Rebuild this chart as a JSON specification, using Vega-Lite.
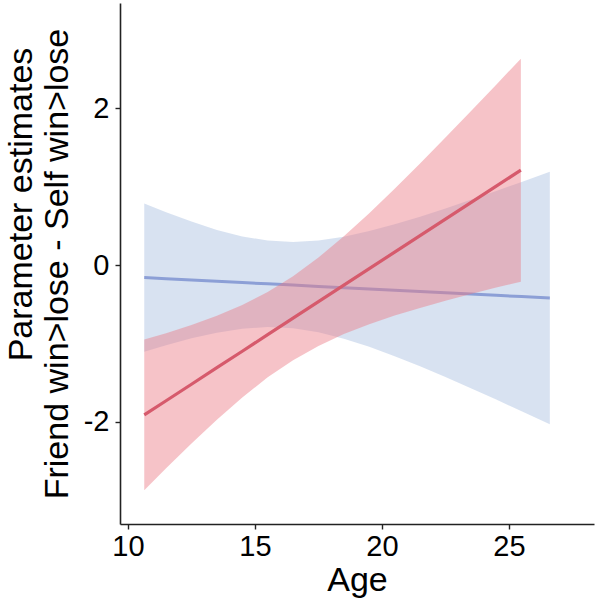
{
  "$schema": "https://vega.github.io/schema/vega-lite/v6.json",
  "width": 474,
  "height": 521,
  "autosize": {"type": "none"},
  "padding": {"left": 120, "top": 3, "right": 6, "bottom": 84},
  "background": "white",
  "title": {
    "text": "Parameter estimates",
    "orient": "left",
    "anchor": "middle",
    "offset": 1,
    "dx": 59,
    "font": "Liberation Sans",
    "fontSize": 34,
    "fontWeight": "normal",
    "color": "black"
  },
  "config": {
    "view": {"stroke": null},
    "font": "Liberation Sans",
    "axis": {
      "grid": false,
      "domainColor": "#222222",
      "domainWidth": 1.6,
      "tickColor": "#222222",
      "tickWidth": 1.4,
      "tickSize": 5,
      "labelColor": "black",
      "labelFont": "Liberation Sans",
      "labelFontSize": 29,
      "titleFont": "Liberation Sans",
      "titleFontSize": 34,
      "titleFontWeight": "normal",
      "titleColor": "black"
    }
  },
  "datasets": {
    "fits": [
      {"group": "Self", "age": 10.64, "est": -0.160, "lo": -1.105, "hi": 0.785},
      {"group": "Self", "age": 11.5, "est": -0.174, "lo": -1.021, "hi": 0.673},
      {"group": "Self", "age": 12.5, "est": -0.190, "lo": -0.934, "hi": 0.554},
      {"group": "Self", "age": 13.5, "est": -0.207, "lo": -0.862, "hi": 0.448},
      {"group": "Self", "age": 14.5, "est": -0.223, "lo": -0.811, "hi": 0.365},
      {"group": "Self", "age": 15.5, "est": -0.239, "lo": -0.790, "hi": 0.312},
      {"group": "Self", "age": 16.5, "est": -0.255, "lo": -0.805, "hi": 0.295},
      {"group": "Self", "age": 17.5, "est": -0.272, "lo": -0.857, "hi": 0.313},
      {"group": "Self", "age": 18.5, "est": -0.288, "lo": -0.938, "hi": 0.362},
      {"group": "Self", "age": 19.5, "est": -0.304, "lo": -1.042, "hi": 0.434},
      {"group": "Self", "age": 20.5, "est": -0.320, "lo": -1.161, "hi": 0.521},
      {"group": "Self", "age": 21.5, "est": -0.337, "lo": -1.291, "hi": 0.617},
      {"group": "Self", "age": 22.5, "est": -0.353, "lo": -1.428, "hi": 0.722},
      {"group": "Self", "age": 23.5, "est": -0.369, "lo": -1.569, "hi": 0.831},
      {"group": "Self", "age": 24.5, "est": -0.385, "lo": -1.714, "hi": 0.944},
      {"group": "Self", "age": 25.5, "est": -0.402, "lo": -1.863, "hi": 1.059},
      {"group": "Self", "age": 26.61, "est": -0.420, "lo": -2.029, "hi": 1.189},
      {"group": "Friend", "age": 10.64, "est": -1.910, "lo": -2.871, "hi": -0.949},
      {"group": "Friend", "age": 11.5, "est": -1.729, "lo": -2.590, "hi": -0.868},
      {"group": "Friend", "age": 12.5, "est": -1.519, "lo": -2.274, "hi": -0.764},
      {"group": "Friend", "age": 13.5, "est": -1.308, "lo": -1.970, "hi": -0.646},
      {"group": "Friend", "age": 14.5, "est": -1.098, "lo": -1.687, "hi": -0.509},
      {"group": "Friend", "age": 15.5, "est": -0.887, "lo": -1.431, "hi": -0.343},
      {"group": "Friend", "age": 16.5, "est": -0.677, "lo": -1.212, "hi": -0.142},
      {"group": "Friend", "age": 17.5, "est": -0.467, "lo": -1.030, "hi": 0.096},
      {"group": "Friend", "age": 18.5, "est": -0.256, "lo": -0.880, "hi": 0.368},
      {"group": "Friend", "age": 19.5, "est": -0.046, "lo": -0.754, "hi": 0.662},
      {"group": "Friend", "age": 20.5, "est": 0.165, "lo": -0.644, "hi": 0.974},
      {"group": "Friend", "age": 21.5, "est": 0.375, "lo": -0.546, "hi": 1.296},
      {"group": "Friend", "age": 22.5, "est": 0.585, "lo": -0.455, "hi": 1.625},
      {"group": "Friend", "age": 23.5, "est": 0.796, "lo": -0.369, "hi": 1.961},
      {"group": "Friend", "age": 24.5, "est": 1.006, "lo": -0.287, "hi": 2.299},
      {"group": "Friend", "age": 25.47, "est": 1.210, "lo": -0.211, "hi": 2.631}
    ]
  },
  "data": {"name": "fits"},
  "encoding": {
    "x": {
      "field": "age",
      "type": "quantitative",
      "title": "Age",
      "scale": {"domain": [9.685, 28.35], "nice": false, "zero": false},
      "axis": {"values": [10, 15, 20, 25], "labelPadding": 3, "titlePadding": 2}
    }
  },
  "layer": [
    {
      "transform": [{"filter": "datum.group === 'Self'"}],
      "mark": {"type": "area", "color": "#a9bfe0", "opacity": 0.45},
      "encoding": {
        "y": {
          "field": "lo",
          "type": "quantitative",
          "title": "Friend win>lose - Self win>lose",
          "scale": {"domain": [-3.3, 3.34], "nice": false, "zero": false},
          "axis": {"values": [-2, 0, 2], "labelExpr": "'' + datum.value", "labelPadding": 6, "titlePadding": 9}
        },
        "y2": {"field": "hi"}
      }
    },
    {
      "transform": [{"filter": "datum.group === 'Self'"}],
      "mark": {"type": "line", "color": "#8c9fd6", "strokeWidth": 3},
      "encoding": {"y": {"field": "est", "type": "quantitative"}}
    },
    {
      "transform": [{"filter": "datum.group === 'Friend'"}],
      "mark": {"type": "area", "color": "#ea7a86", "opacity": 0.45},
      "encoding": {
        "y": {"field": "lo", "type": "quantitative"},
        "y2": {"field": "hi"}
      }
    },
    {
      "transform": [{"filter": "datum.group === 'Friend'"}],
      "mark": {"type": "line", "color": "#d65a6c", "strokeWidth": 3.2},
      "encoding": {"y": {"field": "est", "type": "quantitative"}}
    }
  ]
}
